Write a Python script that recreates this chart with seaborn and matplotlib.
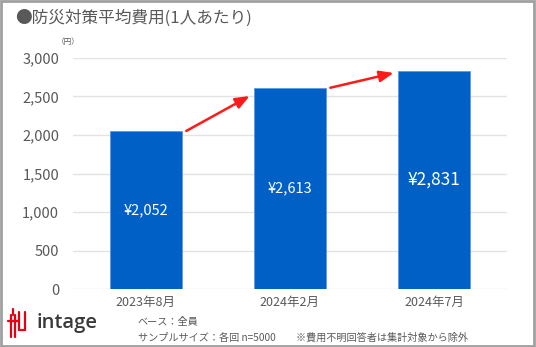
import matplotlib
matplotlib.use("Agg")
import matplotlib.pyplot as plt
import seaborn as sns
import pandas as pd
from matplotlib.patches import Rectangle
from matplotlib.lines import Line2D

categories = ["2023年8月", "2024年2月", "2024年7月"]
values = [2052, 2613, 2831]
value_labels = ["¥2,052", "¥2,613", "¥2,831"]
yticks = [0, 500, 1000, 1500, 2000, 2500, 3000]
ytick_labels = ["0", "500", "1,000", "1,500", "2,000", "2,500", "3,000"]
title = "●防災対策平均費用(1人あたり)"
unit = "（円）"
note1 = "ベース：全員"
note2 = "サンプルサイズ：各回 n=5000　　※費用不明回答者は集計対象から除外"

sns.set_theme(style="white")
plt.rcParams['font.family'] = ['Noto Sans CJK JP', 'DejaVu Sans']

GRAY = "#595959"
BLUE = "#0060C6"

df = pd.DataFrame({"period": categories, "cost": values})

fig = plt.figure(figsize=(5.36, 3.47), dpi=100)
ax = fig.add_axes([0.136, 0.167, 0.810, 0.666])

sns.barplot(data=df, x="period", y="cost", color=BLUE, width=0.5, ax=ax,
            edgecolor="#5B9BE0", linewidth=0.6, saturation=1)

ax.set_xlim(-0.507, 2.507)
ax.set_ylim(0, 3000)
ax.set_yticks(yticks)
ax.set_yticklabels(ytick_labels, fontsize=10.5, color=GRAY)
ax.tick_params(axis="x", labelsize=9, colors=GRAY, length=0, pad=5)
ax.tick_params(axis="y", length=0, pad=10)
ax.set_xlabel("")
ax.set_ylabel("")
ax.grid(axis="y", color="#E3E3E3", linewidth=1)
ax.set_axisbelow(True)
for s in ax.spines.values():
    s.set_visible(False)

# value labels
sizes = [10.5, 10.5, 12.5]
for i, (v, lab) in enumerate(zip(values, value_labels)):
    ax.text(i, v / 2, lab, ha="center", va="center", color="white", fontsize=sizes[i])

# arrows between bars
end_offsets = [107, 26]
for i in range(len(values) - 1):
    ax.annotate("", xy=(i + 0.72, values[i + 1] - end_offsets[i]),
                xytext=(i + 0.28, values[i]),
                arrowprops=dict(arrowstyle="-|>,head_length=0.7,head_width=0.28",
                                color="#FF1A1A", lw=1.8, shrinkA=0, shrinkB=0))

# title, unit
fig.text(0.028, 0.948, title, fontsize=12, color=GRAY, ha="left", va="center")
fig.text(0.127, 0.878, unit, fontsize=5.5, color=GRAY, ha="center", va="center")

# notes
fig.text(0.257, 0.072, note1, fontsize=7.3, color=GRAY, ha="left", va="center")
fig.text(0.257, 0.027, note2, fontsize=7.3, color=GRAY, ha="left", va="center")

# logo
fig.text(0.069, 0.068, "intage", fontsize=14.5, color="#3A3A3A", ha="left", va="center",
         fontweight="semibold", family=["Open Sans", "DejaVu Sans"])
red = "#E60012"
logo_lines = [
    ([0.020, 0.020], [0.030, 0.092]),
    ([0.028, 0.028], [0.030, 0.092]),
    ([0.014, 0.034], [0.075, 0.075]),
    ([0.024, 0.024], [0.092, 0.110]),
    ([0.036, 0.036], [0.050, 0.100]),
    ([0.046, 0.046], [0.050, 0.100]),
    ([0.036, 0.046], [0.050, 0.050]),
]
for xs, ys in logo_lines:
    fig.add_artist(Line2D(xs, ys, color=red, lw=1.6, transform=fig.transFigure))

# border
fig.add_artist(Rectangle((0.002, 0.003), 0.995, 0.994, transform=fig.transFigure,
                         fill=False, edgecolor="#A0A0A0", linewidth=2))

fig.savefig("out.png", dpi=100)
